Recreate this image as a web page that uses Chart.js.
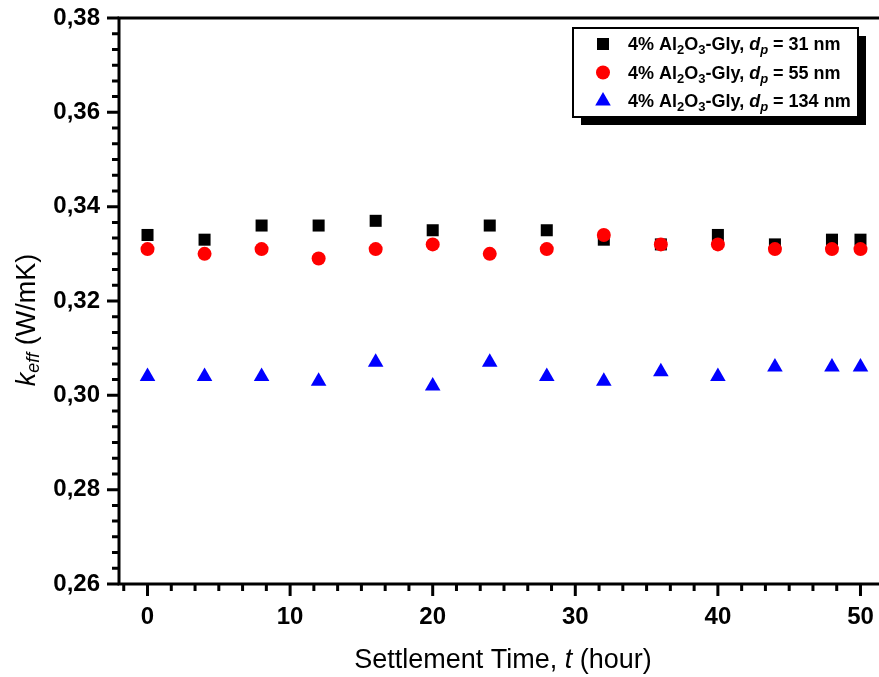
<!DOCTYPE html>
<html>
<head>
<meta charset="utf-8">
<script src="https://cdn.jsdelivr.net/npm/chart.js@4/dist/chart.umd.min.js"></script>
<style>
  html, body { margin: 0; padding: 0; background: #fff; overflow: hidden; }
  canvas { display: block; }
</style>
</head>
<body>
<canvas id="chart" width="898" height="677"></canvas>
<script>
// settlement time (hour)
const hours = [0, 4, 8, 12, 16, 20, 24, 28, 32, 36, 40, 44, 48, 50];
// k_eff (W/mK) for each particle size
const k31nm = [0.334, 0.333, 0.336, 0.336, 0.337, 0.335, 0.336, 0.335, 0.333, 0.332, 0.334, 0.332, 0.333, 0.333];
const k55nm = [0.331, 0.330, 0.331, 0.329, 0.331, 0.332, 0.330, 0.331, 0.334, 0.332, 0.332, 0.331, 0.331, 0.331];
const k134nm = [0.304, 0.304, 0.304, 0.303, 0.307, 0.302, 0.307, 0.304, 0.303, 0.305, 0.304, 0.306, 0.306, 0.306];
const sizes = ['31', '55', '134'];
const xTicks = [0, 10, 20, 30, 40, 50];
const yTicks = [0.26, 0.28, 0.30, 0.32, 0.34, 0.36, 0.38];

const FONT = "'Liberation Sans', Arial, sans-serif";

const toPoints = ys => hours.map((h, i) => ({ x: h, y: ys[i] }));

// minor ticks: 5 between each pair of majors
function minorValues(majors, min, max) {
  const step = (majors[1] - majors[0]) / 6;
  const out = [];
  for (let v = majors[0] - step; v >= min - 1e-9; v -= step) out.push(v);
  for (let v = majors[0]; v <= max + 1e-9; v += step) out.push(v);
  return out;
}

// draw a run of text pieces with their own fonts / offsets
function drawRich(ctx, parts, x, y) {
  for (const p of parts) {
    ctx.font = p.font;
    ctx.fillText(p.text, x, y + (p.dy || 0));
    x += ctx.measureText(p.text).width;
  }
  return x;
}
function richWidth(ctx, parts) {
  let w = 0;
  for (const p of parts) { ctx.font = p.font; w += ctx.measureText(p.text).width; }
  return w;
}

const framePlugin = {
  id: 'frame',
  afterDraw(chart) {
    const ctx = chart.ctx;
    const a = chart.chartArea;
    const xs = chart.scales.x, ys = chart.scales.y;
    ctx.save();
    ctx.strokeStyle = '#000';
    ctx.lineWidth = 3;
    ctx.lineCap = 'butt';
    ctx.strokeRect(a.left, a.top, a.right - a.left, a.bottom - a.top);

    // ticks, outward
    ctx.beginPath();
    minorValues(xTicks, xs.min, xs.max).forEach(v => {
      const px = xs.getPixelForValue(v);
      ctx.moveTo(px, a.bottom); ctx.lineTo(px, a.bottom + 7);
    });
    minorValues(yTicks, ys.min, ys.max).forEach(v => {
      const py = ys.getPixelForValue(v);
      ctx.moveTo(a.left, py); ctx.lineTo(a.left - 7, py);
    });
    xTicks.forEach(v => {
      const px = xs.getPixelForValue(v);
      ctx.moveTo(px, a.bottom); ctx.lineTo(px, a.bottom + 12);
    });
    yTicks.forEach(v => {
      const py = ys.getPixelForValue(v);
      ctx.moveTo(a.left, py); ctx.lineTo(a.left - 12, py);
    });
    ctx.stroke();

    ctx.fillStyle = '#000';
    ctx.textBaseline = 'alphabetic';
    ctx.textAlign = 'left';

    // x title
    const xt = [
      { text: 'Settlement Time, ', font: `27px ${FONT}` },
      { text: 't', font: `italic 27px ${FONT}` },
      { text: ' (hour)', font: `27px ${FONT}` }
    ];
    const xw = richWidth(ctx, xt);
    drawRich(ctx, xt, 503 - xw / 2, 668);

    // y title, rotated
    const yt = [
      { text: 'k', font: `italic 27px ${FONT}` },
      { text: 'eff', font: `italic 18px ${FONT}`, dy: 4 },
      { text: ' (W/mK)', font: `27px ${FONT}` }
    ];
    ctx.save();
    ctx.translate(35, 320);
    ctx.rotate(-Math.PI / 2);
    drawRich(ctx, yt, -richWidth(ctx, yt) / 2, 0);
    ctx.restore();

    // legend box with drop shadow
    const bx = 573, by = 28, bw = 285, bh = 89;
    ctx.fillStyle = '#000';
    ctx.fillRect(bx + 8, by + 8, bw, bh);
    ctx.fillStyle = '#fff';
    ctx.fillRect(bx, by, bw, bh);
    ctx.lineWidth = 2;
    ctx.strokeRect(bx, by, bw, bh);

    chart.data.datasets.forEach((ds, i) => {
      const cy = 44 + i * 28.5;
      ctx.fillStyle = ds.backgroundColor;
      Chart.helpers.drawPoint(ctx, {
        pointStyle: ds.pointStyle, radius: ds.pointRadius, borderWidth: 0, rotation: 0
      }, 603, cy);
      ctx.fillStyle = '#000';
      drawRich(ctx, [
        { text: '4% Al', font: `bold 18px ${FONT}` },
        { text: '2', font: `bold 13px ${FONT}`, dy: 4 },
        { text: 'O', font: `bold 18px ${FONT}` },
        { text: '3', font: `bold 13px ${FONT}`, dy: 4 },
        { text: '-Gly, ', font: `bold 18px ${FONT}` },
        { text: 'd', font: `italic bold 18px ${FONT}` },
        { text: 'p', font: `italic bold 13px ${FONT}`, dy: 4 },
        { text: ' = ' + sizes[i] + ' nm', font: `bold 18px ${FONT}` }
      ], 628, cy + 6);
    });
    ctx.restore();
  }
};

new Chart(document.getElementById('chart'), {
  type: 'scatter',
  data: {
    datasets: [
      { data: toPoints(k31nm), pointStyle: 'rect', pointRadius: 8.5, backgroundColor: '#000000', borderWidth: 0, order: 2 },
      { data: toPoints(k55nm), pointStyle: 'circle', pointRadius: 7, backgroundColor: '#ff0000', borderWidth: 0, order: 1 },
      { data: toPoints(k134nm), pointStyle: 'triangle', pointRadius: 9, backgroundColor: '#0000ff', borderWidth: 0, order: 0 }
    ]
  },
  options: {
    responsive: false,
    animation: false,
    devicePixelRatio: 1,
    layout: { padding: { top: 18, right: 3, left: 0, bottom: 0 } },
    plugins: { legend: { display: false }, tooltip: { enabled: false } },
    scales: {
      x: {
        type: 'linear',
        min: -2, max: 52,
        grid: { display: false, drawTicks: false },
        border: { display: false },
        afterBuildTicks: s => { s.ticks = xTicks.map(v => ({ value: v })); },
        afterFit: s => { s.height = 93; s.paddingLeft = 0; s.paddingRight = 0; },
        ticks: {
          color: '#000', padding: 19, maxRotation: 0,
          font: { family: FONT, size: 24, weight: 'bold' },
          callback: v => String(v)
        }
      },
      y: {
        min: 0.26, max: 0.38,
        grid: { display: false, drawTicks: false },
        border: { display: false },
        afterBuildTicks: s => { s.ticks = yTicks.map(v => ({ value: v })); },
        afterFit: s => { s.width = 119; s.paddingTop = 0; s.paddingBottom = 0; },
        ticks: {
          color: '#000', padding: 19,
          font: { family: FONT, size: 24, weight: 'bold' },
          callback: v => v.toFixed(2).replace('.', ',')
        }
      }
    }
  },
  plugins: [framePlugin]
});
</script>
</body>
</html>
